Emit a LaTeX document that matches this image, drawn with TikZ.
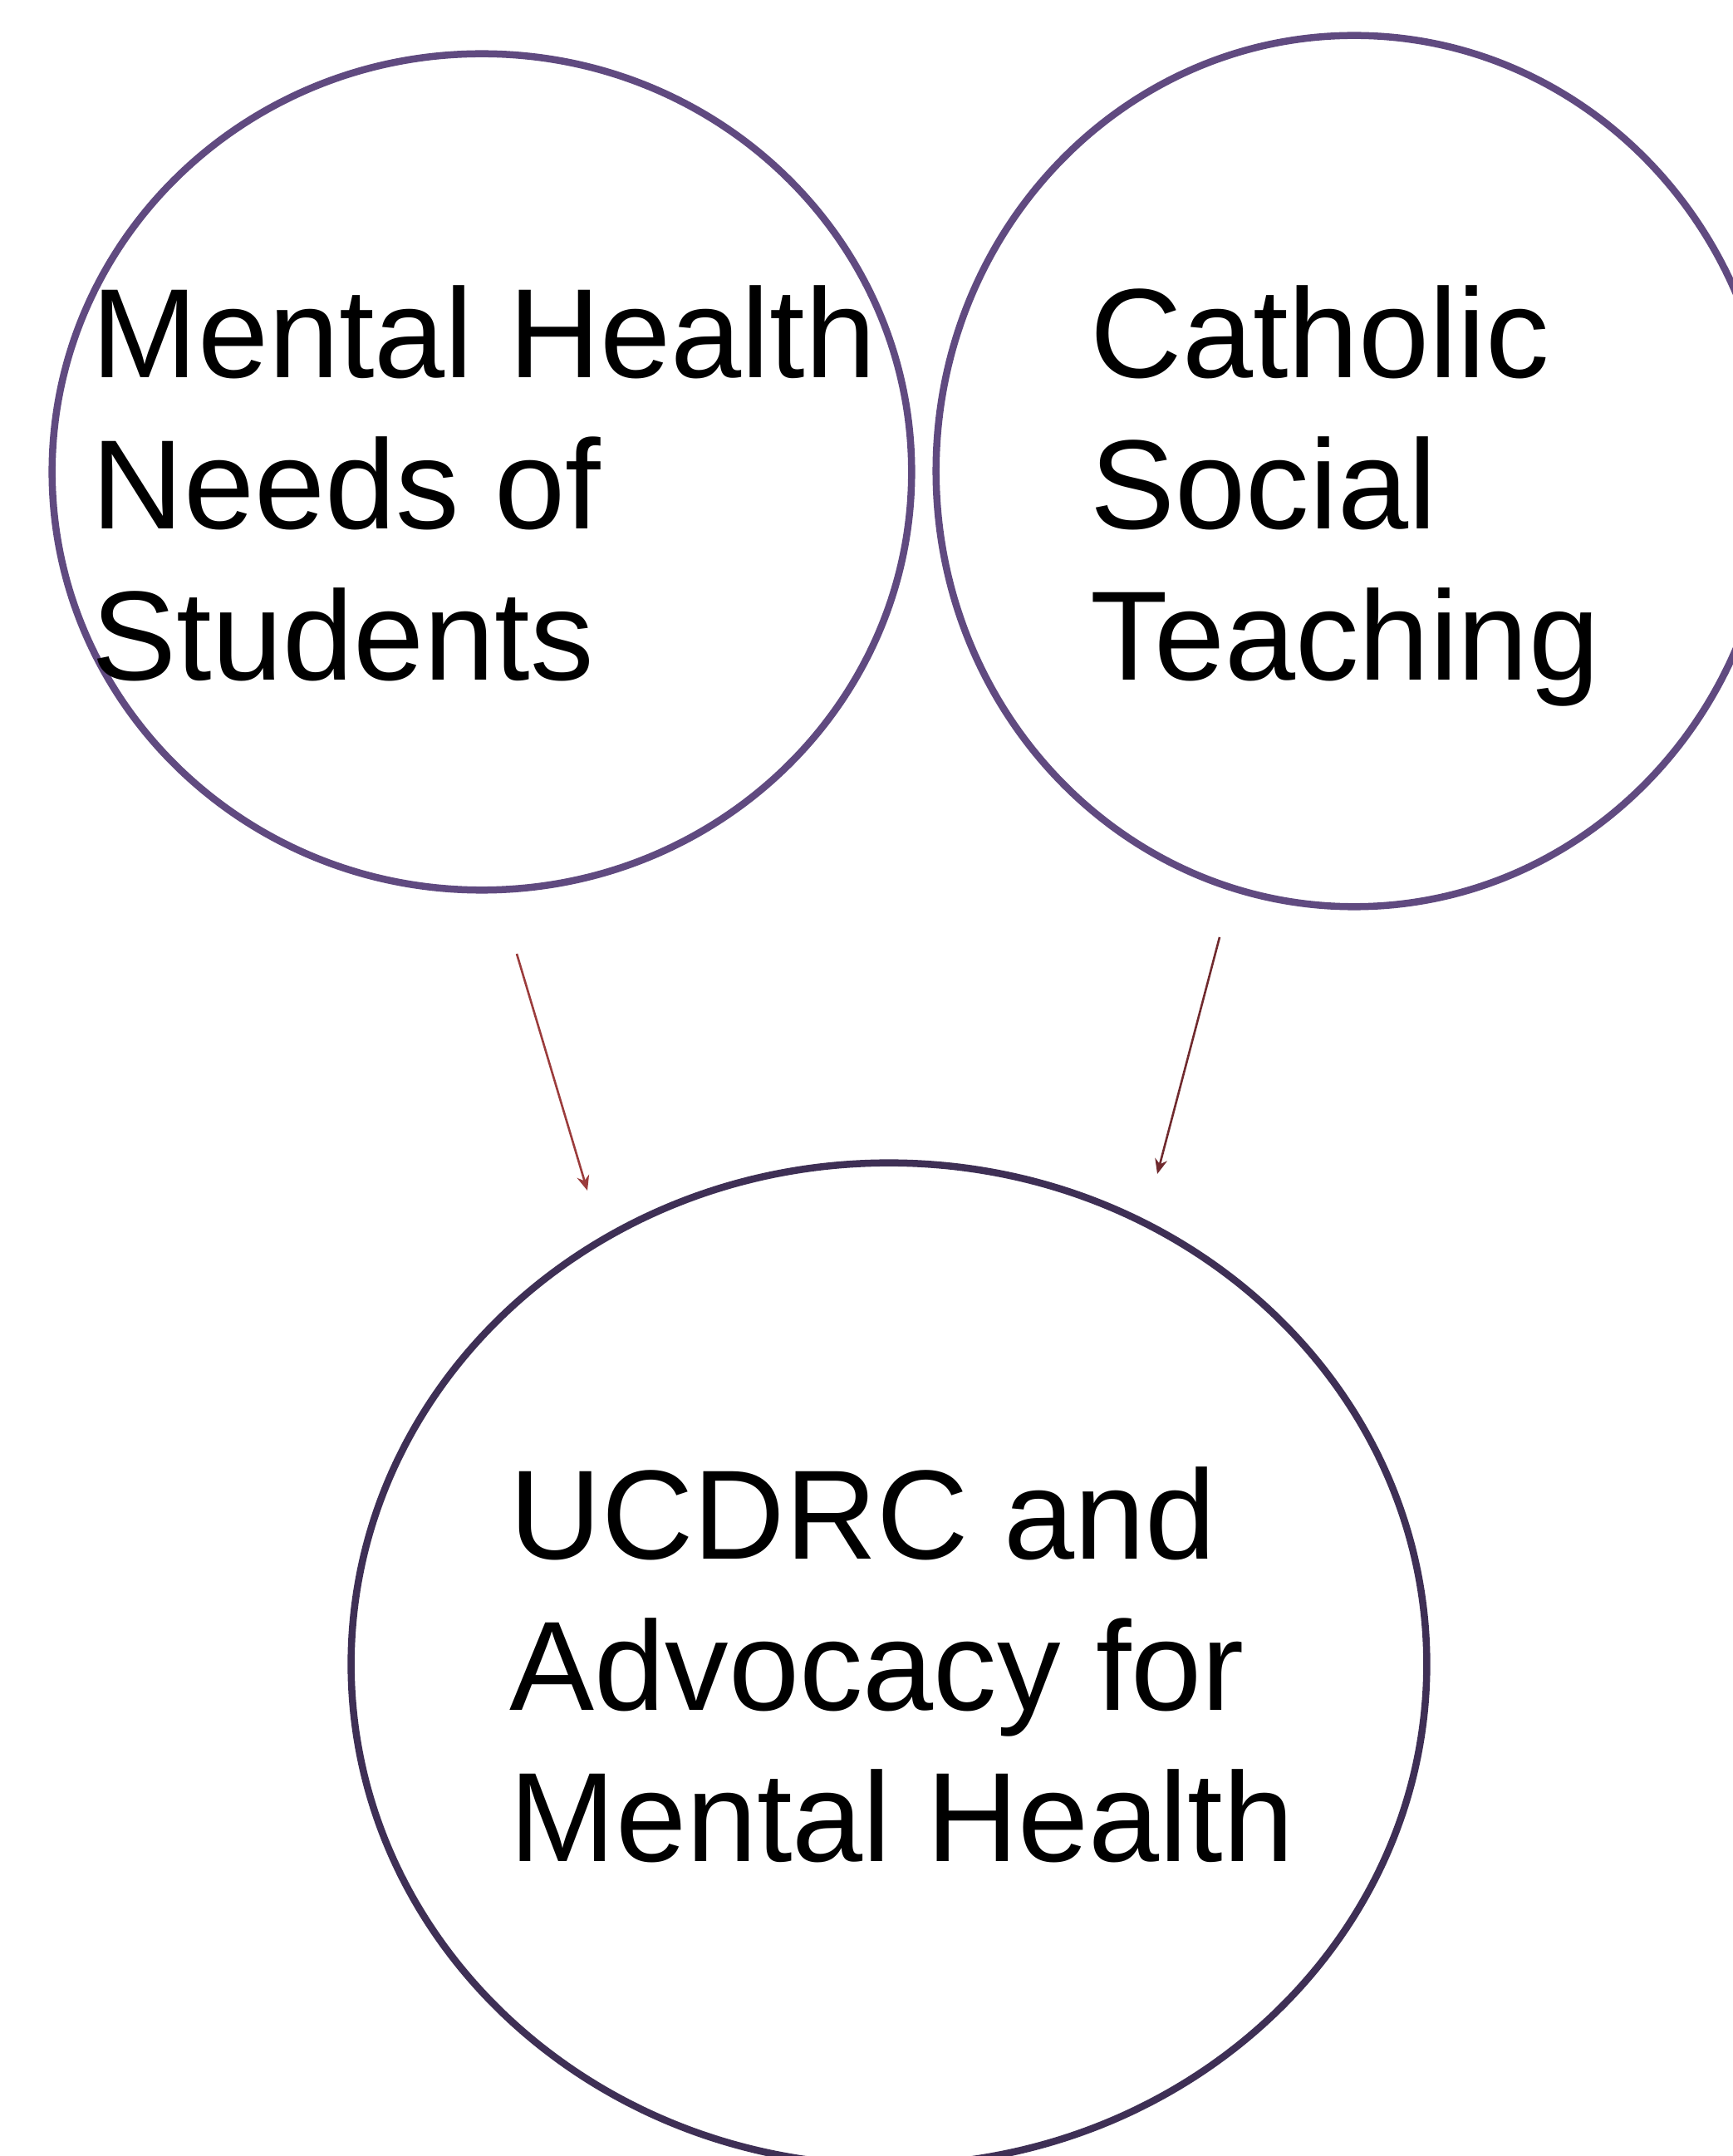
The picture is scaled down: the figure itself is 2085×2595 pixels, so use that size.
\documentclass[tikz,border=0pt]{standalone}
\usepackage{fontspec}
\setmainfont{Liberation Sans}
\usetikzlibrary{shapes.geometric,arrows.meta}
\definecolor{ringtop}{RGB}{96,74,128}
\definecolor{ringbot}{RGB}{62,47,85}
\definecolor{arrowA}{RGB}{155,60,60}
\definecolor{arrowB}{RGB}{112,42,46}
\begin{document}
\begin{tikzpicture}[x=0.01cm,y=-0.01cm,
  ring/.style={ellipse, draw, line width=0.085cm, inner sep=0pt},
  txt/.style={anchor=north west, inner sep=0pt, align=left, text=black,
    font=\fontsize{43.5pt}{51.8pt}\selectfont},
  link/.style={line width=0.026cm, -{Stealth[length=0.18cm,width=0.15cm]}}]
\useasboundingbox (0,0) rectangle (2085,2595);
\node[ring, ringtop, minimum width=10.34cm, minimum height=10.06cm] (needs) at (580,568) {};
\node[ring, ringtop, minimum width=10.06cm, minimum height=10.48cm] (cst) at (1630,567) {};
\node[ring, ringbot, minimum width=12.94cm, minimum height=12.06cm] (ucdrc) at (1070,2003) {};
\node[txt] (needstxt) at (110,343) {Mental Health\\Needs of\\Students};
\node[txt] (csttxt) at (1312,343) {Catholic\\Social\\Teaching};
\node[txt] (ucdrctxt) at (613,1765) {UCDRC and\\Advocacy for\\Mental Health};
\coordinate (a1s) at (622,1148);
\coordinate (a1e) at (707,1433);
\coordinate (a2s) at (1468,1128);
\coordinate (a2e) at (1393,1413);
\draw[link, arrowA] (a1s) -- (a1e);
\draw[link, arrowB] (a2s) -- (a2e);
\end{tikzpicture}
\end{document}
